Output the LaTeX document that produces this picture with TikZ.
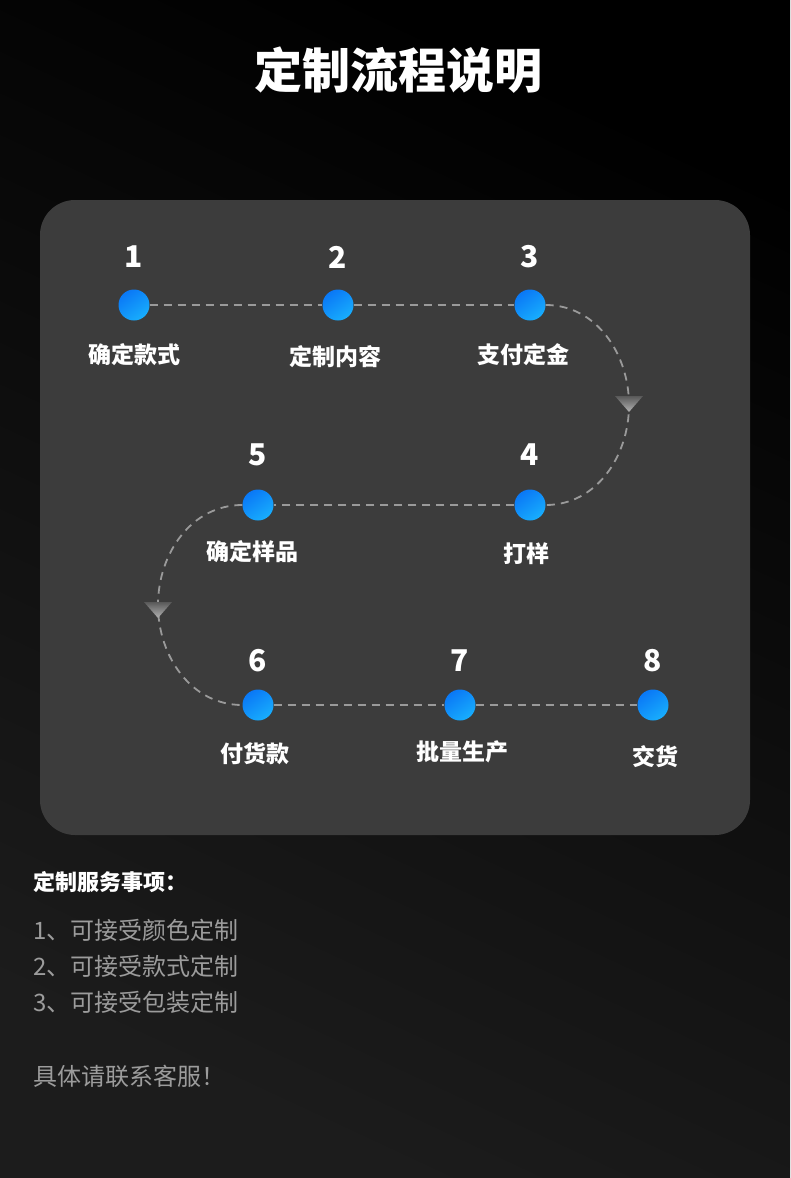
\documentclass[tikz,border=0pt]{standalone}
\usepackage{fontspec}
\setmainfont{Noto Sans CJK SC}
\usetikzlibrary{shapes.geometric}

\definecolor{panelgray}{HTML}{3C3C3C}
\definecolor{bgdark}{HTML}{1C1C1C}
\definecolor{dotblueA}{HTML}{0A78F6}
\definecolor{dotblueB}{HTML}{18AEFD}
\definecolor{dashgray}{HTML}{9A9A9A}
\definecolor{notegray}{HTML}{9C9C9C}

\tikzset{
  stepdot/.style={circle, minimum size=31pt, inner sep=0pt, top color=dotblueA, bottom color=dotblueB, shading angle=35},
  stepnum/.style={text=white, font=\fontsize{30}{32}\selectfont\bfseries},
  steplabel/.style={text=white, font=\fontsize{23}{25}\selectfont\bfseries},
  flowline/.style={draw=dashgray, line width=1.8pt, dash pattern=on 8pt off 6pt},
  notetext/.style={text=notegray, anchor=west, inner sep=0pt, font=\fontsize{24}{26}\selectfont}
}

\begin{document}
\begin{tikzpicture}[x=1pt,y=-1pt]
        \useasboundingbox (0,0) rectangle (790,1178);
        \shade[top color=black, bottom color=bgdark, shading angle=-25] (0,0) rectangle (790,1178);

        \node[text=white, font=\fontsize{48}{50}\selectfont\bfseries] (title) at (398,70) {定制流程说明};

        % panel
        \fill[panelgray, rounded corners=35pt] (40,200) rectangle (750,835);

        % row 1
        \node[stepdot] (s1) at (134,305) {};
        \node[stepdot] (s2) at (338,305) {};
        \node[stepdot] (s3) at (530,305) {};
        \node[stepnum] (n1) at (134,257) {1};
        \node[stepnum] (n2) at (338,257) {2};
        \node[stepnum] (n3) at (530,257) {3};
        \node[steplabel] (l1) at (134,355) {确定款式};
        \node[steplabel] (l2) at (335,357) {定制内容};
        \node[steplabel] (l3) at (523,355) {支付定金};

        % row 2
        \node[stepdot] (s4) at (530,505) {};
        \node[stepdot] (s5) at (258,505) {};
        \node[stepnum] (n4) at (530,455) {4};
        \node[stepnum] (n5) at (258,455) {5};
        \node[steplabel] (l4) at (526,554) {打样};
        \node[steplabel] (l5) at (252,552) {确定样品};

        % row 3
        \node[stepdot] (s6) at (258,705) {};
        \node[stepdot] (s7) at (460,705) {};
        \node[stepdot] (s8) at (653,705) {};
        \node[stepnum] (n6) at (258,661) {6};
        \node[stepnum] (n7) at (460,661) {7};
        \node[stepnum] (n8) at (653,661) {8};
        \node[steplabel] (l6) at (255,754) {付货款};
        \node[steplabel] (l7) at (462,752) {批量生产};
        \node[steplabel] (l8) at (655,757) {交货};

        % bends
        \coordinate (bendR) at (629,405);
        \coordinate (bendL) at (158,605);

        % connectors
        \draw[flowline] (s1) -- (s2);
        \draw[flowline] (s2) -- (s3);
        \draw[flowline] (s3) to[out=0, in=90] (bendR) to[out=-90, in=0] (s4);
        \draw[flowline] (s4) -- (s5);
        \draw[flowline] (s5) to[out=180, in=90] (bendL) to[out=-90, in=180] (s6);
        \draw[flowline] (s6) -- (s7);
        \draw[flowline] (s7) -- (s8);

        % arrow tips
        \shade[top color=black!65!white, bottom color=black!30!white] ([shift={(-14,-9)}]bendR) -- ([shift={(14,-9)}]bendR) -- ([shift={(0,7)}]bendR) -- cycle;
        \shade[top color=black!65!white, bottom color=black!30!white] ([shift={(-14,-3)}]bendL) -- ([shift={(14,-3)}]bendL) -- ([shift={(0,13)}]bendL) -- cycle;

        % notes
        \node[text=white, anchor=west, inner sep=0pt, font=\fontsize{22}{24}\selectfont\bfseries] (head) at (33,882) {定制服务事项：};
        \node[notetext] (item1) at (33,930) {1、可接受颜色定制};
        \node[notetext] (item2) at (33,966) {2、可接受款式定制};
        \node[notetext] (item3) at (33,1002) {3、可接受包装定制};
        \node[notetext] (contact) at (33,1076) {具体请联系客服！};
      \end{tikzpicture}
\end{document}
